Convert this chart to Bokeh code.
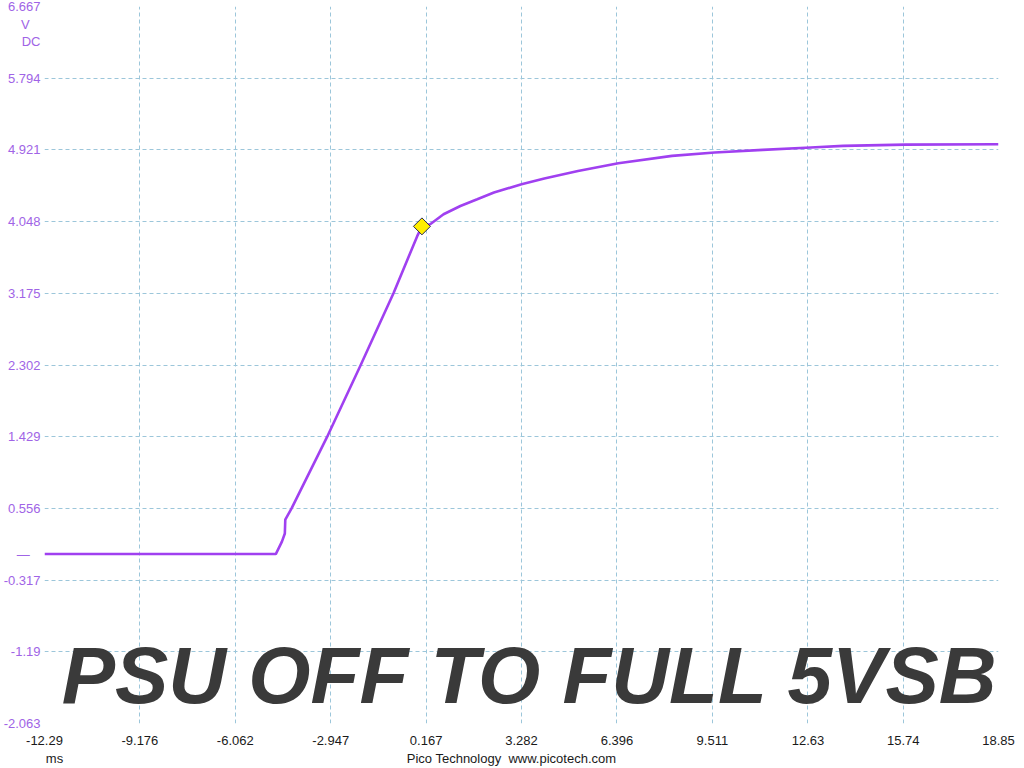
from bokeh.plotting import figure
from bokeh.models import Range1d, FixedTicker, LinearAxis
from bokeh.core.properties import value
from bokeh.embed import file_html
from bokeh.resources import INLINE

# ---- data ----
t_ms = [-12.29, -4.74, -4.54, -4.445, -4.43, -4.225, -3.078, -1.987, -0.895, -0.128,
        0.03, 0.299, 0.736, 1.285, 1.835, 2.381, 3.282, 4.025, 5.124, 6.44,
        8.193, 9.585, 11.154, 12.723, 13.78, 15.81, 18.85]
volts = [0.0, 0.0, 0.152, 0.25, 0.42, 0.556, 1.417, 2.287, 3.178, 3.868,
         3.99, 4.015, 4.137, 4.238, 4.32, 4.402, 4.503, 4.572, 4.665, 4.759,
         4.848, 4.889, 4.921, 4.95, 4.97, 4.985, 4.99]
marker_t = [0.03]
marker_v = [3.99]

x_ticks = [-12.29, -9.176, -6.062, -2.947, 0.167, 3.282, 6.396, 9.511, 12.63, 15.74, 18.85]
x_tick_labels = ["-12.29", "-9.176", "-6.062", "-2.947", "0.167", "3.282", "6.396",
                 "9.511", "12.63", "15.74", "18.85"]
y_ticks = [-2.063, -1.19, -0.317, 0.556, 1.429, 2.302, 3.175, 4.048, 4.921, 5.794, 6.667]
y_tick_labels = ["-2.063", "-1.19", "-0.317", "0.556", "1.429", "2.302", "3.175",
                 "4.048", "4.921", "5.794", "6.667"]

title_text = ["PSU OFF TO FULL 5VSB"]
title_x = [-11.73]
title_y = [-1.479]

# extra left-side labels: unit, coupling and channel zero marker
side_pos = [6.442, 6.235, 0.0001]
side_text = ["V\u00a0\u00a0\u00a0", "DC", "\u2014\u00a0\u00a0\u00a0"]
# bottom line: x unit and footer
foot_pos = [-11.963, 2.955]
foot_text = ["ms", "Pico Technology\u00a0 www.picotech.com"]

TRACE = "#a040f0"
LABEL_PURPLE = "#a064e6"
GRID = "#9cc6da"
FONT = "Liberation Sans"

p = figure(width=1024, height=768, output_backend="svg", toolbar_location=None,
           x_range=Range1d(x_ticks[0], x_ticks[-1]),
           y_range=Range1d(y_ticks[0], y_ticks[-1]),
           min_border_left=44, min_border_right=26, min_border_top=6,
           min_border_bottom=45)
p.outline_line_color = None
p.background_fill_color = "white"
p.border_fill_color = "white"

# axes
p.xaxis.ticker = FixedTicker(ticks=x_ticks)
p.yaxis.ticker = FixedTicker(ticks=y_ticks + side_pos)
p.xaxis.major_label_overrides = dict(zip(x_ticks, x_tick_labels))
p.yaxis.major_label_overrides = dict(zip(y_ticks + side_pos, y_tick_labels + side_text))
for ax in (p.xaxis, p.yaxis):
    ax.axis_line_color = None
    ax.major_tick_line_color = None
    ax.minor_tick_line_color = None
    ax.major_label_text_font = FONT
    ax.major_label_text_font_size = "13px"
p.xaxis.major_label_text_color = "#1a1a1a"
p.xaxis.major_label_standoff = 6
p.yaxis.major_label_text_color = LABEL_PURPLE
p.yaxis.major_label_standoff = -2

foot_axis = LinearAxis(ticker=FixedTicker(ticks=foot_pos),
                       major_label_overrides=dict(zip(foot_pos, foot_text)))
foot_axis.axis_line_color = None
foot_axis.major_tick_line_color = None
foot_axis.minor_tick_line_color = None
foot_axis.major_label_text_font = FONT
foot_axis.major_label_text_font_size = "13px"
foot_axis.major_label_text_color = "#1a1a1a"
foot_axis.major_label_standoff = -3
p.add_layout(foot_axis, "below")

# grid
p.xgrid.ticker = FixedTicker(ticks=x_ticks)
p.ygrid.ticker = FixedTicker(ticks=y_ticks)
for g in (p.xgrid, p.ygrid):
    g.grid_line_color = GRID
    g.grid_line_dash = "4 3"
    g.grid_line_width = 1

# trace
p.line(t_ms, volts, line_color=TRACE, line_width=2.6)
p.scatter(marker_t, marker_v, marker="square", angle=0.785398, size=12,
          fill_color="#ffee00", line_color="#2a2a50", line_width=1)

# big title text
p.text(x=title_x, y=title_y, text=title_text, text_font=value(FONT),
       text_font_size="80px", text_font_style="bold italic",
       text_color="#3a3a3a", text_baseline="alphabetic", text_align="left")

open("out.html", "w").write(file_html(p, INLINE))
